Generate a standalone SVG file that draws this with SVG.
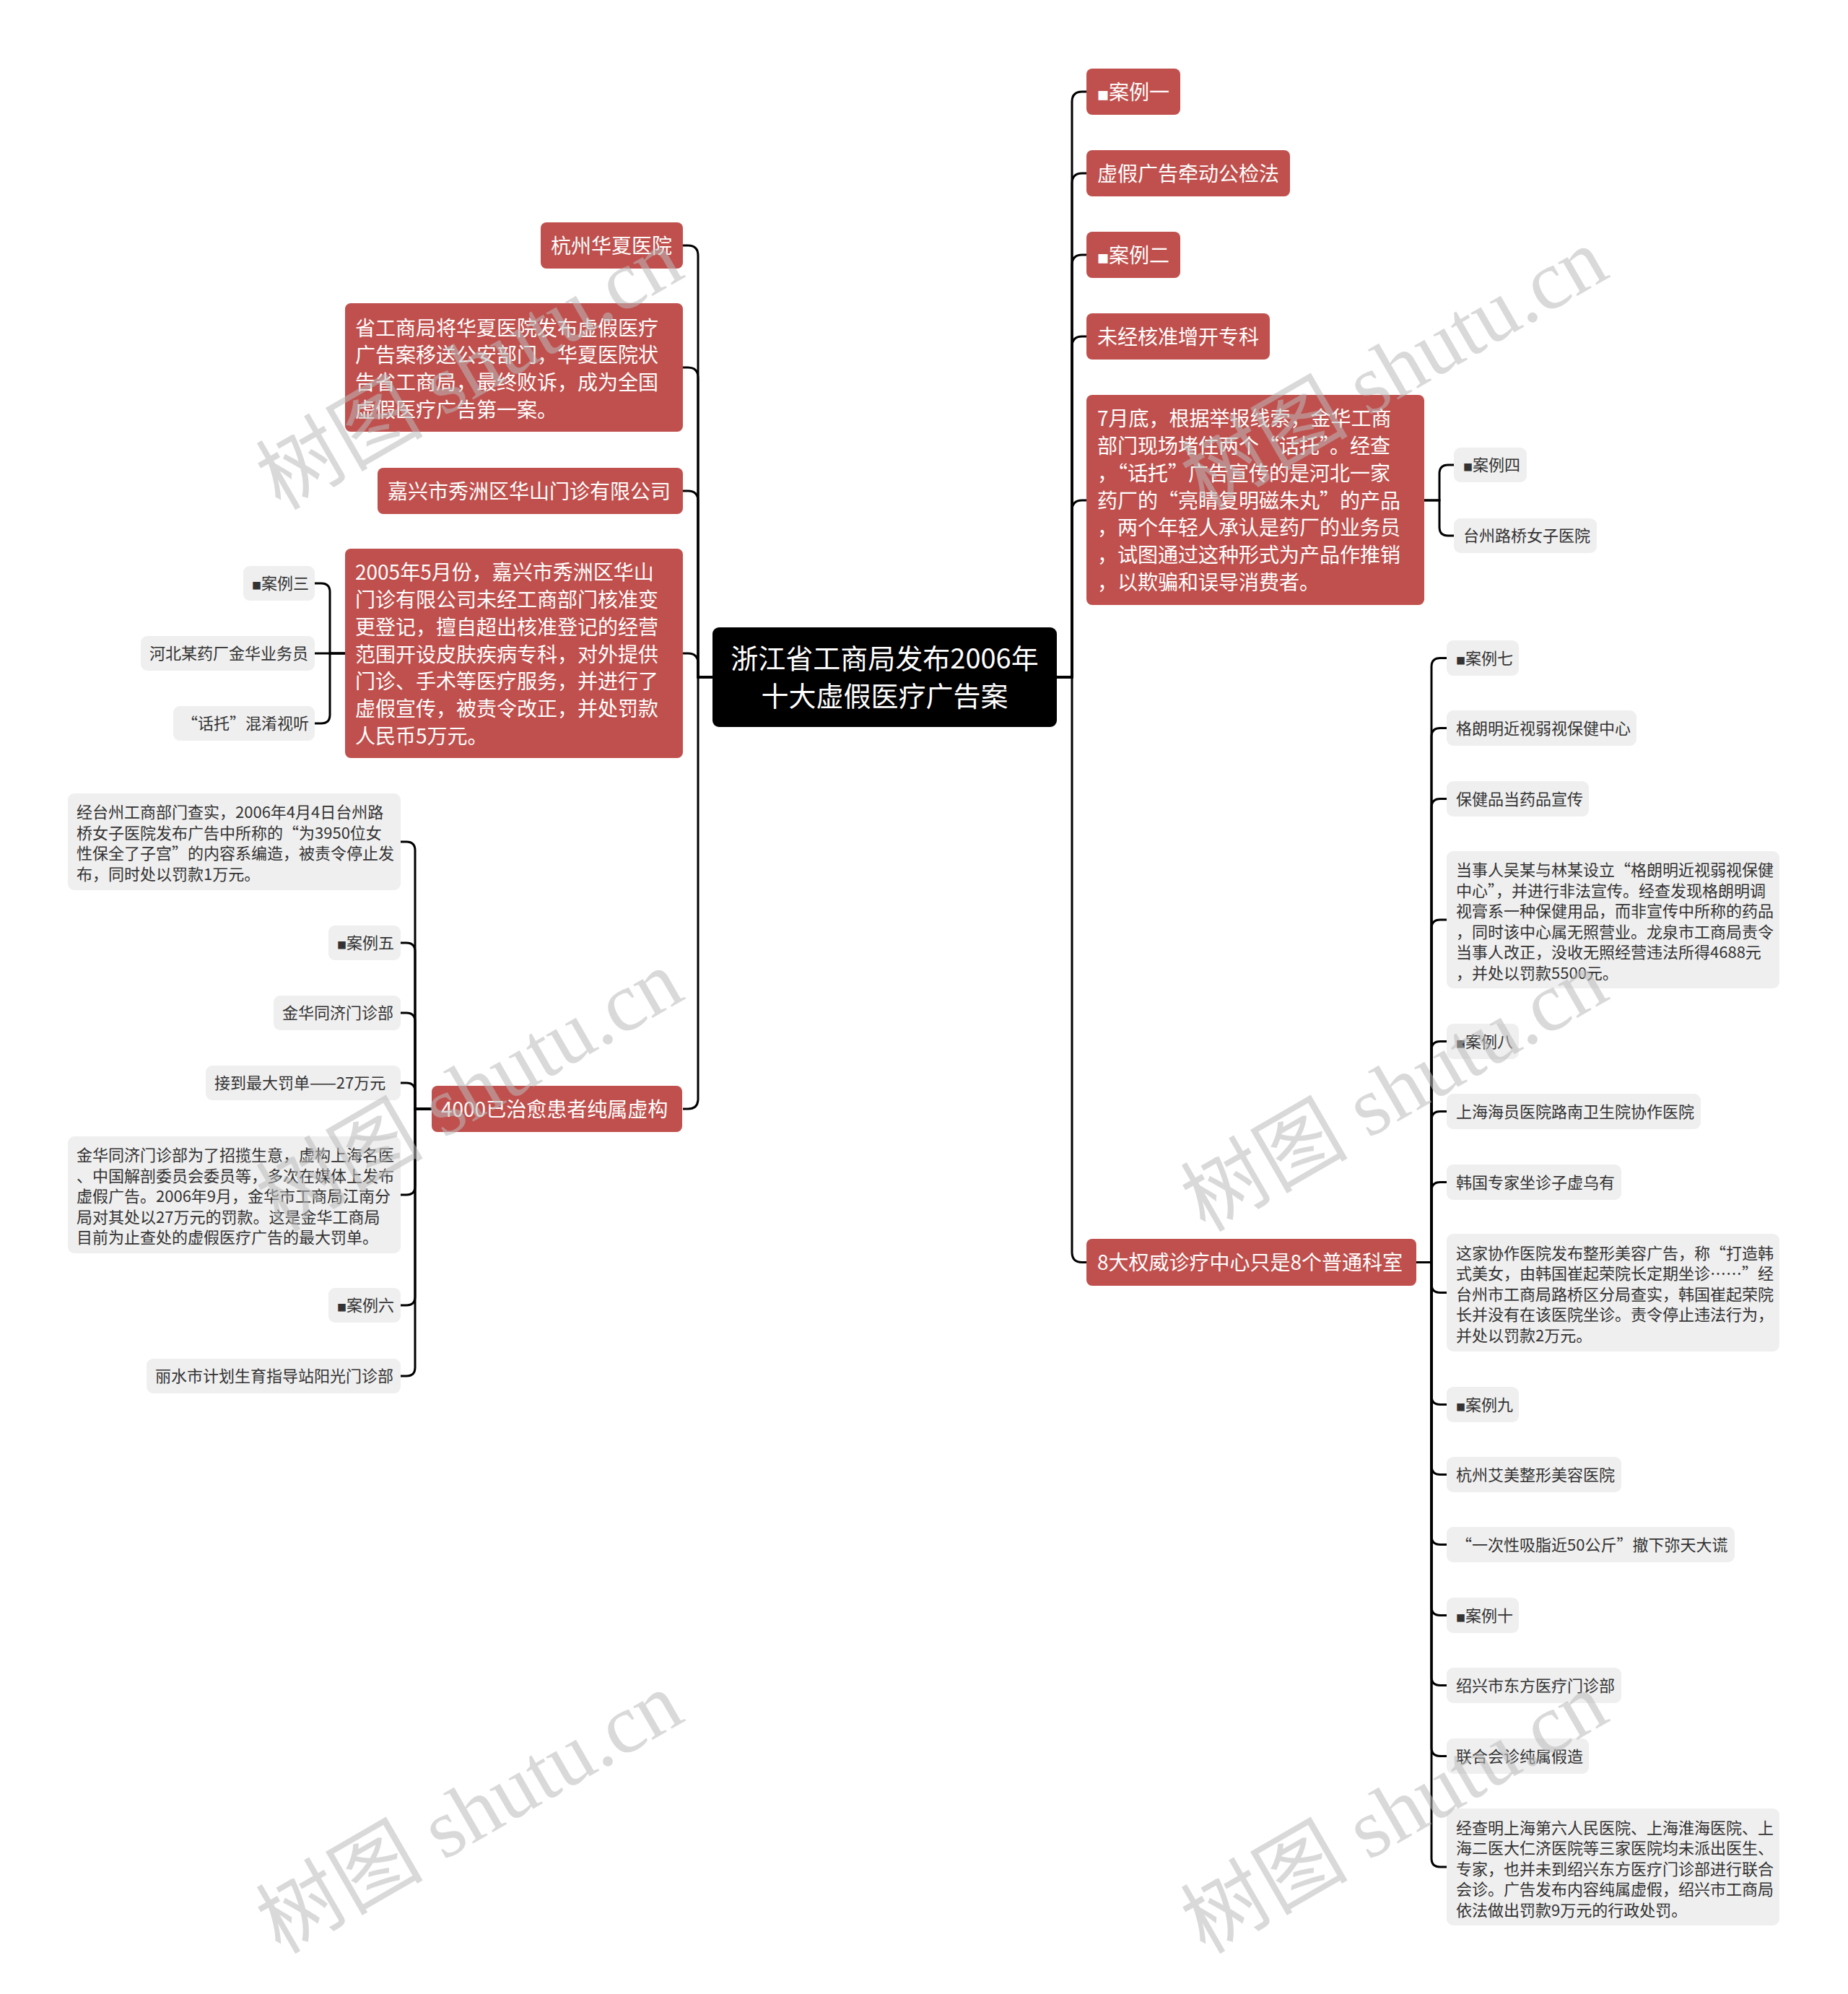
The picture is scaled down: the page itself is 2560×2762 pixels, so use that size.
<svg xmlns="http://www.w3.org/2000/svg" width="2560" height="2762" viewBox="0 0 2560 2762">
<style>
text{font-family:"Noto Sans CJK SC","Noto Sans",sans-serif}
.r{fill:#C0504D}
.g{fill:#EFEFEF}
.c{fill:#000}
.tw{fill:#fff;font-size:28px}
.td{fill:#333;font-size:22px}
.tc{fill:#fff;font-size:38px}
.sq1{font-size:16px}
.sq2{font-size:13px}
.q{font-feature-settings:"fwid"}
.ln{fill:none;stroke:#000;stroke-width:3}
.wm{font-family:"Liberation Serif","Noto Sans CJK SC",serif;font-size:116px;fill:#bbb;opacity:.55}
</style>
<rect width="2560" height="2762" fill="#fff"/>
<g id="connectors" class="ln">
<path d="M1464 938H1485V141Q1485 127 1499 127H1505"/>
<path d="M1464 938H1485V254Q1485 240 1499 240H1505"/>
<path d="M1464 938H1485V367Q1485 353 1499 353H1505"/>
<path d="M1464 938H1485V480Q1485 466 1499 466H1505"/>
<path d="M1464 938H1485V707Q1485 693 1499 693H1505"/>
<path d="M1464 938H1485V1734.5Q1485 1748.5 1499 1748.5H1505"/>
<path d="M987 938H967V354Q967 340 953 340H946"/>
<path d="M987 938H967V523Q967 509 953 509H946"/>
<path d="M987 938H967V694Q967 680 953 680H946"/>
<path d="M987 938H967V919Q967 905 953 905H946"/>
<path d="M987 938H967V1522Q967 1536 953 1536H946"/>
<path d="M1973 693H1994V656Q1994 644 2006 644H2014"/>
<path d="M1973 693H1994V730Q1994 742 2006 742H2014"/>
<path d="M478 905H457V820Q457 808 445 808H436"/>
<path d="M478 905H436"/>
<path d="M478 905H457V990Q457 1002 445 1002H436"/>
<path d="M598 1536H575V1178Q575 1166 563 1166H555"/>
<path d="M598 1536H575V1318Q575 1306 563 1306H555"/>
<path d="M598 1536H575V1415Q575 1403 563 1403H555"/>
<path d="M598 1536H575V1512Q575 1500 563 1500H555"/>
<path d="M598 1536H575V1643Q575 1655 563 1655H555"/>
<path d="M598 1536H575V1796Q575 1808 563 1808H555"/>
<path d="M598 1536H575V1894Q575 1906 563 1906H555"/>
<path d="M1962 1748.5H1983V923.5Q1983 911.5 1995 911.5H2004"/>
<path d="M1962 1748.5H1983V1020.5Q1983 1008.5 1995 1008.5H2004"/>
<path d="M1962 1748.5H1983V1118.5Q1983 1106.5 1995 1106.5H2004"/>
<path d="M1962 1748.5H1983V1286Q1983 1274 1995 1274H2004"/>
<path d="M1962 1748.5H1983V1454.5Q1983 1442.5 1995 1442.5H2004"/>
<path d="M1962 1748.5H1983V1551.5Q1983 1539.5 1995 1539.5H2004"/>
<path d="M1962 1748.5H1983V1649.5Q1983 1637.5 1995 1637.5H2004"/>
<path d="M1962 1748.5H1983V1778.5Q1983 1790.5 1995 1790.5H2004"/>
<path d="M1962 1748.5H1983V1933.5Q1983 1945.5 1995 1945.5H2004"/>
<path d="M1962 1748.5H1983V2030.5Q1983 2042.5 1995 2042.5H2004"/>
<path d="M1962 1748.5H1983V2127.5Q1983 2139.5 1995 2139.5H2004"/>
<path d="M1962 1748.5H1983V2225.5Q1983 2237.5 1995 2237.5H2004"/>
<path d="M1962 1748.5H1983V2322.5Q1983 2334.5 1995 2334.5H2004"/>
<path d="M1962 1748.5H1983V2420.5Q1983 2432.5 1995 2432.5H2004"/>
<path d="M1962 1748.5H1983V2574Q1983 2586 1995 2586H2004"/>
</g>
<g id="root">
<rect class="c" x="987" y="869" width="477" height="138" rx="9"/>
<text class="tc" x="1225.5" y="926" text-anchor="middle">浙江省工商局发布2006年</text>
<text class="tc" x="1225.5" y="978" text-anchor="middle">十大虚假医疗广告案</text>
</g>
<g id="r1"><rect class="r" x="1505" y="95" width="130" height="64" rx="8"/><text class="tw" x="1520" y="137.6"><tspan class="sq1">■</tspan>案例一</text></g>
<g id="r2"><rect class="r" x="1505" y="208" width="282" height="64" rx="8"/><text class="tw" x="1520" y="250.6">虚假广告牵动公检法</text></g>
<g id="r3"><rect class="r" x="1505" y="321" width="130" height="64" rx="8"/><text class="tw" x="1520" y="363.6"><tspan class="sq1">■</tspan>案例二</text></g>
<g id="r4"><rect class="r" x="1505" y="434" width="254" height="64" rx="8"/><text class="tw" x="1520" y="476.6">未经核准增开专科</text></g>
<g id="r5"><rect class="r" x="1505" y="547" width="468" height="291" rx="8"/>
<text class="tw" x="1520" y="590">7月底，根据举报线索，金华工商</text>
<text class="tw" x="1520" y="628">部门现场堵住两个<tspan class="q">“</tspan>话托<tspan class="q">”</tspan>。经查</text>
<text class="tw" x="1520" y="666">，<tspan class="q">“</tspan>话托<tspan class="q">”</tspan>广告宣传的是河北一家</text>
<text class="tw" x="1520" y="703.5">药厂的<tspan class="q">“</tspan>亮睛复明磁朱丸<tspan class="q">”</tspan>的产品</text>
<text class="tw" x="1520" y="741.3">，两个年轻人承认是药厂的业务员</text>
<text class="tw" x="1520" y="779">，试图通过这种形式为产品作推销</text>
<text class="tw" x="1520" y="817">，以欺骗和误导消费者。</text>
</g>
<g id="r5a"><rect class="g" x="2014" y="620" width="101" height="48" rx="9"/><text class="td" x="2027" y="652.4"><tspan class="sq2">■</tspan>案例四</text></g>
<g id="r5b"><rect class="g" x="2014" y="718" width="198" height="48" rx="9"/><text class="td" x="2027" y="750.4">台州路桥女子医院</text></g>
<g id="r6"><rect class="r" x="1505" y="1716" width="457" height="65" rx="8"/><text class="tw" x="1520" y="1759">8大权威诊疗中心只是8个普通科室</text></g>
<g id="c1"><rect class="g" x="2004" y="887" width="100" height="49" rx="9"/><text class="td" x="2017" y="920"><tspan class="sq2">■</tspan>案例七</text></g>
<g id="c2"><rect class="g" x="2004" y="984" width="263" height="49" rx="9"/><text class="td" x="2017" y="1017">格朗明近视弱视保健中心</text></g>
<g id="c3"><rect class="g" x="2004" y="1082" width="197" height="49" rx="9"/><text class="td" x="2017" y="1115">保健品当药品宣传</text></g>
<g id="c4"><rect class="g" x="2004" y="1179" width="461" height="190" rx="9"/>
<text class="td" x="2017" y="1213">当事人吴某与林某设立<tspan class="q">“</tspan>格朗明近视弱视保健</text>
<text class="td" x="2017" y="1241.5">中心<tspan class="q">”</tspan>，并进行非法宣传。经查发现格朗明调</text>
<text class="td" x="2017" y="1270">视膏系一种保健用品，而非宣传中所称的药品</text>
<text class="td" x="2017" y="1298.5">，同时该中心属无照营业。龙泉市工商局责令</text>
<text class="td" x="2017" y="1327">当事人改正，没收无照经营违法所得4688元</text>
<text class="td" x="2017" y="1355.5">，并处以罚款5500元。</text>
</g>
<g id="c5"><rect class="g" x="2004" y="1418" width="100" height="49" rx="9"/><text class="td" x="2017" y="1451"><tspan class="sq2">■</tspan>案例八</text></g>
<g id="c6"><rect class="g" x="2004" y="1515" width="352" height="49" rx="9"/><text class="td" x="2017" y="1548">上海海员医院路南卫生院协作医院</text></g>
<g id="c7"><rect class="g" x="2004" y="1613" width="242" height="49" rx="9"/><text class="td" x="2017" y="1646">韩国专家坐诊子虚乌有</text></g>
<g id="c8"><rect class="g" x="2004" y="1709" width="461" height="163" rx="9"/>
<text class="td" x="2017" y="1743.5">这家协作医院发布整形美容广告，称<tspan class="q">“</tspan>打造韩</text>
<text class="td" x="2017" y="1772">式美女，由韩国崔起荣院长定期坐诊……<tspan class="q">”</tspan>经</text>
<text class="td" x="2017" y="1800.5">台州市工商局路桥区分局查实，韩国崔起荣院</text>
<text class="td" x="2017" y="1829">长并没有在该医院坐诊。责令停止违法行为，</text>
<text class="td" x="2017" y="1857.5">并处以罚款2万元。</text>
</g>
<g id="c9"><rect class="g" x="2004" y="1921" width="100" height="49" rx="9"/><text class="td" x="2017" y="1954"><tspan class="sq2">■</tspan>案例九</text></g>
<g id="c10"><rect class="g" x="2004" y="2018" width="242" height="49" rx="9"/><text class="td" x="2017" y="2051">杭州艾美整形美容医院</text></g>
<g id="c11"><rect class="g" x="2004" y="2115" width="399" height="49" rx="9"/><text class="td" x="2017" y="2148"><tspan class="q">“</tspan>一次性吸脂近50公斤<tspan class="q">”</tspan>撤下弥天大谎</text></g>
<g id="c12"><rect class="g" x="2004" y="2213" width="100" height="49" rx="9"/><text class="td" x="2017" y="2246"><tspan class="sq2">■</tspan>案例十</text></g>
<g id="c13"><rect class="g" x="2004" y="2310" width="242" height="49" rx="9"/><text class="td" x="2017" y="2343">绍兴市东方医疗门诊部</text></g>
<g id="c14"><rect class="g" x="2004" y="2408" width="197" height="49" rx="9"/><text class="td" x="2017" y="2441">联合会诊纯属假造</text></g>
<g id="c15"><rect class="g" x="2004" y="2505" width="461" height="162" rx="9"/>
<text class="td" x="2017" y="2539.5">经查明上海第六人民医院、上海淮海医院、上</text>
<text class="td" x="2017" y="2568">海二医大仁济医院等三家医院均未派出医生、</text>
<text class="td" x="2017" y="2596.5">专家，也并未到绍兴东方医疗门诊部进行联合</text>
<text class="td" x="2017" y="2625">会诊。广告发布内容纯属虚假，绍兴市工商局</text>
<text class="td" x="2017" y="2653.5">依法做出罚款9万元的行政处罚。</text>
</g>
<g id="l1"><rect class="r" x="749" y="308" width="197" height="64" rx="8"/><text class="tw" x="763" y="350.6">杭州华夏医院</text></g>
<g id="l2"><rect class="r" x="478" y="420" width="468" height="178" rx="8"/>
<text class="tw" x="492" y="464.6">省工商局将华夏医院发布虚假医疗</text>
<text class="tw" x="492" y="502.4">广告案移送公安部门，华夏医院状</text>
<text class="tw" x="492" y="540.2">告省工商局，最终败诉，成为全国</text>
<text class="tw" x="492" y="578">虚假医疗广告第一案。</text>
</g>
<g id="l3"><rect class="r" x="523" y="648" width="423" height="64" rx="8"/><text class="tw" x="537" y="690.6">嘉兴市秀洲区华山门诊有限公司</text></g>
<g id="l4"><rect class="r" x="478" y="760" width="468" height="290" rx="8"/>
<text class="tw" x="492" y="803">2005年5月份，嘉兴市秀洲区华山</text>
<text class="tw" x="492" y="841">门诊有限公司未经工商部门核准变</text>
<text class="tw" x="492" y="879">更登记，擅自超出核准登记的经营</text>
<text class="tw" x="492" y="916.5">范围开设皮肤疾病专科，对外提供</text>
<text class="tw" x="492" y="954.3">门诊、手术等医疗服务，并进行了</text>
<text class="tw" x="492" y="992">虚假宣传，被责令改正，并处罚款</text>
<text class="tw" x="492" y="1030">人民币5万元。</text>
</g>
<g id="l4a"><rect class="g" x="337" y="784" width="99" height="48" rx="9"/><text class="td" x="349" y="816.4"><tspan class="sq2">■</tspan>案例三</text></g>
<g id="l4b"><rect class="g" x="195" y="881" width="241" height="48" rx="9"/><text class="td" x="207" y="913.4">河北某药厂金华业务员</text></g>
<g id="l4c"><rect class="g" x="240" y="978" width="196" height="48" rx="9"/><text class="td" x="252" y="1010.4"><tspan class="q">“</tspan>话托<tspan class="q">”</tspan>混淆视听</text></g>
<g id="l5"><rect class="r" x="598" y="1504" width="347" height="64" rx="8"/><text class="tw" x="611" y="1546.6">4000已治愈患者纯属虚构</text></g>
<g id="l5a"><rect class="g" x="94" y="1099" width="461" height="134" rx="9"/>
<text class="td" x="106" y="1133">经台州工商部门查实，2006年4月4日台州路</text>
<text class="td" x="106" y="1161.5">桥女子医院发布广告中所称的<tspan class="q">“</tspan>为3950位女</text>
<text class="td" x="106" y="1190">性保全了子宫<tspan class="q">”</tspan>的内容系编造，被责令停止发</text>
<text class="td" x="106" y="1218.5">布，同时处以罚款1万元。</text>
</g>
<g id="l5b"><rect class="g" x="455" y="1282" width="100" height="48" rx="9"/><text class="td" x="467" y="1314.4"><tspan class="sq2">■</tspan>案例五</text></g>
<g id="l5c"><rect class="g" x="379" y="1379" width="176" height="48" rx="9"/><text class="td" x="391" y="1411.4">金华同济门诊部</text></g>
<g id="l5d"><rect class="g" x="285" y="1476" width="270" height="48" rx="9"/><text class="td" x="297" y="1508.4">接到最大罚单——27万元</text></g>
<g id="l5e"><rect class="g" x="94" y="1574" width="461" height="162" rx="9"/>
<text class="td" x="106" y="1608">金华同济门诊部为了招揽生意，虚构上海名医</text>
<text class="td" x="106" y="1636.5">、中国解剖委员会委员等，多次在媒体上发布</text>
<text class="td" x="106" y="1665">虚假广告。2006年9月，金华市工商局江南分</text>
<text class="td" x="106" y="1693.5">局对其处以27万元的罚款。这是金华工商局</text>
<text class="td" x="106" y="1722">目前为止查处的虚假医疗广告的最大罚单。</text>
</g>
<g id="l5f"><rect class="g" x="455" y="1784" width="100" height="48" rx="9"/><text class="td" x="467" y="1816.4"><tspan class="sq2">■</tspan>案例六</text></g>
<g id="l5g"><rect class="g" x="203" y="1882" width="352" height="48" rx="9"/><text class="td" x="215" y="1914.4">丽水市计划生育指导站阳光门诊部</text></g>
<g id="watermarks">
<text class="wm" text-anchor="middle" transform="translate(670 545) rotate(-30)">树图 shutu.cn</text>
<text class="wm" text-anchor="middle" transform="translate(1951 545) rotate(-30)">树图 shutu.cn</text>
<text class="wm" text-anchor="middle" transform="translate(670 1545) rotate(-30)">树图 shutu.cn</text>
<text class="wm" text-anchor="middle" transform="translate(1951 1545) rotate(-30)">树图 shutu.cn</text>
<text class="wm" text-anchor="middle" transform="translate(670 2545) rotate(-30)">树图 shutu.cn</text>
<text class="wm" text-anchor="middle" transform="translate(1951 2545) rotate(-30)">树图 shutu.cn</text>
</g>
</svg>
